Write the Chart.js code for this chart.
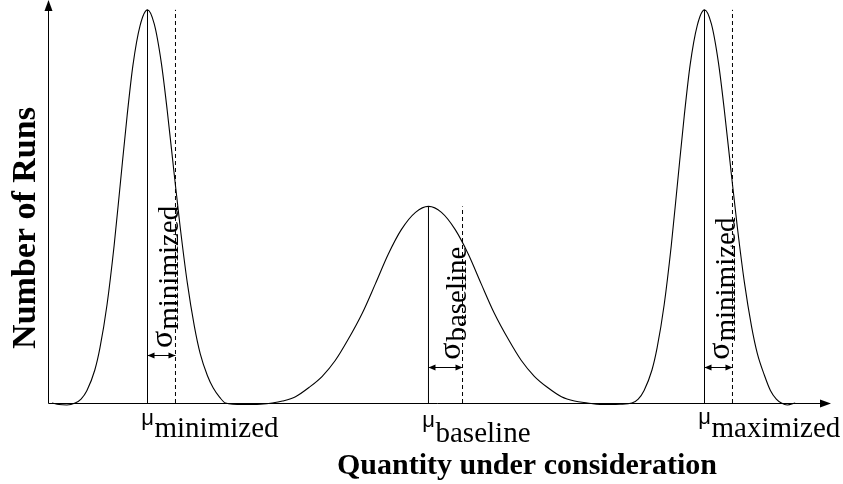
<!DOCTYPE html>
<html>
<head>
<meta charset="utf-8">
<script src="https://cdn.jsdelivr.net/npm/chart.js@4.4.0/dist/chart.umd.min.js"></script>
<style>
  html, body { margin: 0; padding: 0; background: #ffffff; }
  #wrap { width: 843px; height: 484px; position: relative; }
</style>
</head>
<body>
<div id="wrap"><canvas id="chart"></canvas></div>
<script>
// Outline of the three run distributions (quantity, number of runs)
const curveX = [1.0, 2.8, 4.8, 6.9, 8.4, 9.9, 11.9, 13.2, 15.0, 16.8, 18.3, 20.1, 21.6, 23.4, 25.29,
  27.0, 28.8, 30.3, 32.1, 33.6, 35.4, 37.2, 38.7, 40.5, 42.0, 43.6, 45.1, 49.5, 54.0, 57.0,
  59.6, 62.9, 66.4, 69.7, 73.0, 76.3, 79.9, 83.2, 86.5, 89.8, 93.4, 96.7,
  100.0, 103.5, 106.8, 110.1, 113.4, 117.0, 120.3, 123.6, 126.9, 130.5, 133.8, 137.1, 140.3, 145.4, 148.4,
  150.0, 151.5, 153.5, 154.8, 156.6, 158.4, 159.9, 161.7, 163.2, 165.0, 166.85,
  168.6, 170.4, 171.9, 173.7, 175.2, 177.0, 178.8, 180.3, 182.1, 183.6, 185.1, 186.4, 187.9, 189.9];
const curveY = [0, -0.4, -0.5, 0, 1.0, 3.2, 8.4, 14, 25, 40, 55, 73, 86, 96, 100,
  96.4, 86.5, 74.4, 58, 44.7, 30.6, 19.5, 12.5, 7, 3.8, 1.5, 0, -0.4, -0.3, 0,
  0.5, 1.6, 4.0, 6.8, 10.8, 16.2, 22.9, 30.3, 37.9, 44.1, 48.5, 50,
  48.5, 44.1, 37.9, 30.3, 22.9, 16.2, 10.8, 6.8, 4.0, 1.6, 0.5, 0, -0.4, -0.3, 0,
  1.0, 3.2, 8.4, 14, 25, 40, 55, 73, 86, 96, 100,
  96.4, 86.5, 74.4, 58, 44.7, 30.6, 19.5, 12.5, 7, 3.2, 1.0, 0, -0.5, 0];

// Means, peak heights, mean + sigma positions and the level of each sigma arrow
const meanX = [25.29, 96.7, 166.85];
const peakY = [100, 50, 100];
const sigmaX = [32.4, 105.35, 173.96];
const arrowY = [12.2, 9.2, 9.2];

// Label texts
const meanNames = ['minimized', 'baseline', 'maximized'];
const sigmaNames = ['minimized', 'baseline', 'minimized'];
const xTitle = 'Quantity under consideration';
const yTitle = 'Number of Runs';

const xRange = [0, 199];
const yRange = [0, 102.5];

function verticals(xs, tops) {
  const pts = [];
  xs.forEach((x, i) => {
    pts.push({ x: x, y: 0 }, { x: x, y: tops[i] }, { x: x, y: null });
  });
  return pts;
}

const SERIF = '"Liberation Serif", "Times New Roman", serif';
const SANS = '"Liberation Sans", Arial, sans-serif';

const decorations = {
  id: 'decorations',
  afterDatasetsDraw(chart) {
    const ctx = chart.ctx;
    const xs = chart.scales.x, ys = chart.scales.y;
    const area = chart.chartArea;
    const x0 = xs.getPixelForValue(0);
    const y0 = ys.getPixelForValue(0);

    ctx.save();
    ctx.strokeStyle = '#000';
    ctx.fillStyle = '#000';
    ctx.lineWidth = 1;

    // axes with arrowheads
    ctx.beginPath();
    ctx.moveTo(x0 + 0.5, y0 + 0.5);
    ctx.lineTo(area.right - 4, y0 + 0.5);
    ctx.moveTo(x0 + 0.5, y0 + 0.5);
    ctx.lineTo(x0 + 0.5, area.top + 4);
    ctx.stroke();
    ctx.beginPath();
    ctx.moveTo(area.right, y0 + 0.5);
    ctx.lineTo(area.right - 11, y0 - 3.5);
    ctx.lineTo(area.right - 11, y0 + 4.5);
    ctx.closePath();
    ctx.fill();
    ctx.beginPath();
    ctx.moveTo(x0 + 0.5, area.top);
    ctx.lineTo(x0 - 3.5, area.top + 11);
    ctx.lineTo(x0 + 4.5, area.top + 11);
    ctx.closePath();
    ctx.fill();

    // sigma double arrows
    meanX.forEach((m, i) => {
      const a = xs.getPixelForValue(m);
      const b = xs.getPixelForValue(sigmaX[i]);
      const y = Math.round(ys.getPixelForValue(arrowY[i])) + 0.5;
      ctx.beginPath();
      ctx.moveTo(a, y);
      ctx.lineTo(b, y);
      ctx.stroke();
      ctx.beginPath();
      ctx.moveTo(a, y);
      ctx.lineTo(a + 7, y - 3);
      ctx.lineTo(a + 7, y + 3);
      ctx.closePath();
      ctx.moveTo(b, y);
      ctx.lineTo(b - 7, y - 3);
      ctx.lineTo(b - 7, y + 3);
      ctx.closePath();
      ctx.fill();
    });

    // sigma labels, reading upwards beside the dashed lines
    sigmaNames.forEach((name, i) => {
      const b = xs.getPixelForValue(sigmaX[i]);
      const y = ys.getPixelForValue(arrowY[i]);
      ctx.save();
      ctx.translate(b - 3, y - 7);
      ctx.rotate(-Math.PI / 2);
      ctx.textAlign = 'left';
      ctx.textBaseline = 'alphabetic';
      ctx.font = '32px ' + SERIF;
      ctx.fillText('σ', 0, 0);
      const w = ctx.measureText('σ').width;
      ctx.font = '29px ' + SERIF;
      ctx.fillText(name, w + 1, 6);
      ctx.restore();
    });

    // mean labels under the axis
    const muBase = [22, 24, 21];
    const subBase = [34, 39, 34];
    meanNames.forEach((name, i) => {
      const m = xs.getPixelForValue(meanX[i]);
      ctx.textBaseline = 'alphabetic';
      ctx.font = '22px ' + SANS;
      ctx.textAlign = 'center';
      ctx.fillText('μ', m, y0 + muBase[i]);
      ctx.textAlign = 'left';
      ctx.font = '29px ' + SERIF;
      ctx.fillText(name, m + 7, y0 + subBase[i]);
    });

    // axis titles
    ctx.font = 'bold 30px ' + SERIF;
    ctx.textAlign = 'center';
    ctx.textBaseline = 'alphabetic';
    ctx.fillText(xTitle, 527, y0 + 71);
    ctx.font = 'bold 34px ' + SERIF;
    ctx.save();
    ctx.translate(35, 228);
    ctx.rotate(-Math.PI / 2);
    ctx.fillText(yTitle, 0, 0);
    ctx.restore();

    ctx.restore();
  }
};

new Chart(document.getElementById('chart'), {
  type: 'line',
  data: {
    datasets: [
      {
        data: curveX.map((x, i) => ({ x: x, y: curveY[i] })),
        borderColor: '#000',
        borderWidth: 1.1,
        pointRadius: 0,
        fill: false,
        cubicInterpolationMode: 'monotone',
        clip: false
      },
      {
        data: verticals(meanX, peakY),
        borderColor: '#000',
        borderWidth: 1,
        pointRadius: 0,
        fill: false,
        tension: 0,
        clip: false
      },
      {
        data: verticals(sigmaX, peakY),
        borderColor: '#000',
        borderWidth: 1,
        borderDash: [4, 3],
        pointRadius: 0,
        fill: false,
        tension: 0,
        clip: false
      }
    ]
  },
  options: {
    responsive: true,
    maintainAspectRatio: false,
    animation: false,
    events: [],
    layout: { padding: { left: 48, right: 12, top: 0, bottom: 81 } },
    plugins: { legend: { display: false }, tooltip: { enabled: false } },
    scales: {
      x: { type: 'linear', min: xRange[0], max: xRange[1], display: false },
      y: { type: 'linear', min: yRange[0], max: yRange[1], display: false }
    }
  },
  plugins: [decorations]
});
</script>
</body>
</html>
